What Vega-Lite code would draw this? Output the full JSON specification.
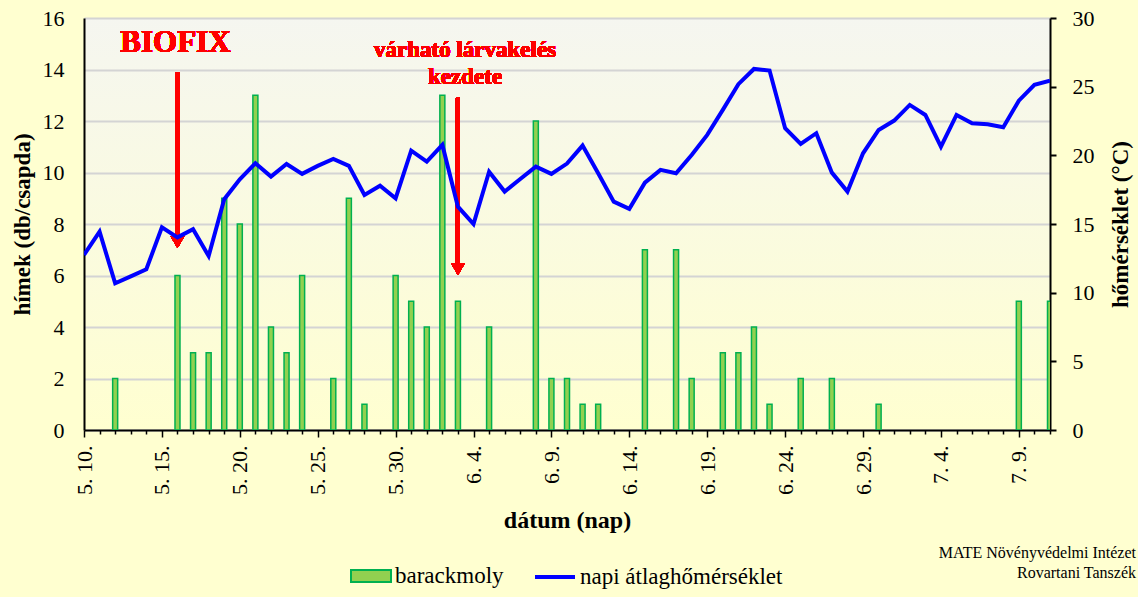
{
  "$schema": "https://vega.github.io/schema/vega-lite/v6.json",
  "width": 966,
  "height": 412,
  "autosize": {"type": "none"},
  "padding": {"left": 84, "top": 18, "right": 88, "bottom": 167},
  "background": "#ffffd0",
  "config": {
    "font": "Liberation Serif",
    "view": {
      "stroke": null,
      "fill": {"gradient": "linear", "x1": 0, "y1": 0, "x2": 0, "y2": 1,
        "stops": [{"offset": 0, "color": "#f5f6f0"}, {"offset": 1, "color": "#ffffd0"}]}
    },
    "axis": {"labelFont": "Liberation Serif", "titleFont": "Liberation Serif", "labelColor": "black", "titleColor": "black", "domainColor": "black", "tickColor": "black"},
    "legend": {"labelFont": "Liberation Serif", "labelColor": "black", "labelFontSize": 23, "labelLimit": 0, "labelOffset": 3}
  },
  "title": {
    "text": ["MATE Növényvédelmi Intézet", "Rovartani Tanszék"],
    "orient": "bottom", "anchor": "end", "align": "right", "frame": "group",
    "font": "Liberation Serif", "fontSize": 16, "fontWeight": "normal", "color": "black",
    "lineHeight": 20, "dx": 86, "dy": -54, "offset": 10
  },
  "data": {"values": [
    {"date": "2024-05-10", "moths": 0, "temp": 12.75},
    {"date": "2024-05-11", "moths": 0, "temp": 14.44},
    {"date": "2024-05-12", "moths": 2, "temp": 10.68},
    {"date": "2024-05-13", "moths": 0, "temp": 11.19},
    {"date": "2024-05-14", "moths": 0, "temp": 11.70},
    {"date": "2024-05-15", "moths": 0, "temp": 14.76},
    {"date": "2024-05-16", "moths": 6, "temp": 14.03},
    {"date": "2024-05-17", "moths": 3, "temp": 14.62},
    {"date": "2024-05-18", "moths": 3, "temp": 12.67},
    {"date": "2024-05-19", "moths": 9, "temp": 16.80},
    {"date": "2024-05-20", "moths": 8, "temp": 18.26},
    {"date": "2024-05-21", "moths": 13, "temp": 19.42},
    {"date": "2024-05-22", "moths": 4, "temp": 18.45},
    {"date": "2024-05-23", "moths": 3, "temp": 19.37},
    {"date": "2024-05-24", "moths": 6, "temp": 18.65},
    {"date": "2024-05-25", "moths": 0, "temp": 19.23},
    {"date": "2024-05-26", "moths": 2, "temp": 19.74},
    {"date": "2024-05-27", "moths": 9, "temp": 19.23},
    {"date": "2024-05-28", "moths": 1, "temp": 17.12},
    {"date": "2024-05-29", "moths": 0, "temp": 17.79},
    {"date": "2024-05-30", "moths": 6, "temp": 16.87},
    {"date": "2024-05-31", "moths": 5, "temp": 20.34},
    {"date": "2024-06-01", "moths": 4, "temp": 19.54},
    {"date": "2024-06-02", "moths": 13, "temp": 20.76},
    {"date": "2024-06-03", "moths": 5, "temp": 16.26},
    {"date": "2024-06-04", "moths": 0, "temp": 15.00},
    {"date": "2024-06-05", "moths": 4, "temp": 18.81},
    {"date": "2024-06-06", "moths": 0, "temp": 17.36},
    {"date": "2024-06-07", "moths": 0, "temp": 18.28},
    {"date": "2024-06-08", "moths": 12, "temp": 19.18},
    {"date": "2024-06-09", "moths": 2, "temp": 18.65},
    {"date": "2024-06-10", "moths": 2, "temp": 19.40},
    {"date": "2024-06-11", "moths": 1, "temp": 20.71},
    {"date": "2024-06-12", "moths": 1, "temp": 18.69},
    {"date": "2024-06-13", "moths": 0, "temp": 16.63},
    {"date": "2024-06-14", "moths": 0, "temp": 16.10},
    {"date": "2024-06-15", "moths": 7, "temp": 18.01},
    {"date": "2024-06-16", "moths": 0, "temp": 18.94},
    {"date": "2024-06-17", "moths": 7, "temp": 18.69},
    {"date": "2024-06-18", "moths": 2, "temp": 20.03},
    {"date": "2024-06-19", "moths": 0, "temp": 21.49},
    {"date": "2024-06-20", "moths": 3, "temp": 23.31},
    {"date": "2024-06-21", "moths": 3, "temp": 25.18},
    {"date": "2024-06-22", "moths": 4, "temp": 26.29},
    {"date": "2024-06-23", "moths": 1, "temp": 26.17},
    {"date": "2024-06-24", "moths": 0, "temp": 21.97},
    {"date": "2024-06-25", "moths": 2, "temp": 20.83},
    {"date": "2024-06-26", "moths": 0, "temp": 21.61},
    {"date": "2024-06-27", "moths": 2, "temp": 18.74},
    {"date": "2024-06-28", "moths": 0, "temp": 17.36},
    {"date": "2024-06-29", "moths": 0, "temp": 20.15},
    {"date": "2024-06-30", "moths": 1, "temp": 21.85},
    {"date": "2024-07-01", "moths": 0, "temp": 22.53},
    {"date": "2024-07-02", "moths": 0, "temp": 23.67},
    {"date": "2024-07-03", "moths": 0, "temp": 22.94},
    {"date": "2024-07-04", "moths": 0, "temp": 20.63},
    {"date": "2024-07-05", "moths": 0, "temp": 22.94},
    {"date": "2024-07-06", "moths": 0, "temp": 22.34},
    {"date": "2024-07-07", "moths": 0, "temp": 22.26},
    {"date": "2024-07-08", "moths": 0, "temp": 22.05},
    {"date": "2024-07-09", "moths": 5, "temp": 23.98},
    {"date": "2024-07-10", "moths": 0, "temp": 25.13},
    {"date": "2024-07-11", "moths": 5, "temp": 25.44}
  ]},
  "encoding": {
    "x": {
      "field": "date", "type": "temporal",
      "scale": {"type": "utc", "nice": false, "padding": 0, "domain": [
        {"year": 2024, "month": 5, "date": 10, "utc": true},
        {"year": 2024, "month": 7, "date": 11, "utc": true}]},
      "axis": {
        "title": "dátum (nap)", "titleFontSize": 24, "titleFontWeight": "bold",
        "titleX": 483, "titleY": 90, "titleBaseline": "middle",
        "grid": false, "tickCount": {"interval": "day", "step": 1},
        "labelExpr": "(datum.value - 1715299200000) % 432000000 == 0 ? utcFormat(datum.value, '%-m. %-d.') : ''",
        "labelAngle": 270, "labelAlign": "right", "labelBaseline": "middle",
        "labelFontSize": 22, "labelPadding": 8, "labelFlush": false, "labelOverlap": false, "labelBound": false,
        "tickSize": {"condition": {"test": "(datum.value - 1715299200000) % 432000000 == 0", "value": 7}, "value": 4},
        "tickWidth": 1.5, "domainWidth": 2
      }
    }
  },
  "layer": [
    {
      "layer": [
        {
          "transform": [{"filter": "datum.moths > 0"}],
          "mark": {"type": "bar", "size": 5, "stroke": "#00b050", "strokeWidth": 1.5, "clip": true},
          "encoding": {
            "y": {
              "field": "moths", "type": "quantitative",
              "scale": {"domain": [0, 16], "nice": false},
              "axis": {
                "title": "hímek (db/csapda)", "titleFontSize": 23, "titleFontWeight": "bold",
                "titleAngle": 270, "titleX": -62, "titleY": 206, "titleAlign": "center", "titleBaseline": "middle",
                "values": [0, 2, 4, 6, 8, 10, 12, 14, 16], "labelFontSize": 22, "labelPadding": 20,
                "ticks": false, "domainWidth": 2, "grid": true, "gridColor": "#d4d4d4", "gridWidth": 2
              }
            },
            "fill": {
              "datum": "barackmoly", "type": "nominal",
              "scale": {"domain": ["barackmoly"], "range": ["#92d050"]},
              "legend": {
                "orient": "none", "legendX": 266, "legendY": 537, "title": null,
                "symbolSize": 1600, "symbolType": "M-1,-0.3H1V0.3H-1Z",
                "symbolStrokeColor": "#00b050", "symbolStrokeWidth": 2, "symbolFillColor": "#92d050", "symbolOpacity": 1
              }
            }
          }
        },
        {
          "mark": {"type": "rule", "color": "#ff0000", "strokeWidth": 4},
          "encoding": {
            "x": {"datum": {"year": 2024, "month": 5, "date": 16, "utc": true}, "type": "temporal"},
            "y": {"datum": 13.9, "type": "quantitative"},
            "y2": {"datum": 7.5}
          }
        },
        {
          "mark": {"type": "point", "shape": "triangle-down", "filled": true, "color": "#ff0000", "size": 196, "opacity": 1},
          "encoding": {
            "x": {"datum": {"year": 2024, "month": 5, "date": 16, "utc": true}, "type": "temporal"},
            "y": {"datum": 7.3, "type": "quantitative"}
          }
        },
        {
          "mark": {"type": "rule", "color": "#ff0000", "strokeWidth": 4},
          "encoding": {
            "x": {"datum": {"year": 2024, "month": 6, "date": 3, "utc": true}, "type": "temporal"},
            "y": {"datum": 12.9, "type": "quantitative"},
            "y2": {"datum": 6.45}
          }
        },
        {
          "mark": {"type": "point", "shape": "triangle-down", "filled": true, "color": "#ff0000", "size": 196, "opacity": 1},
          "encoding": {
            "x": {"datum": {"year": 2024, "month": 6, "date": 3, "utc": true}, "type": "temporal"},
            "y": {"datum": 6.25, "type": "quantitative"}
          }
        },
        {
          "mark": {"type": "text", "text": "BIOFIX", "color": "#ff0000", "font": "Liberation Serif", "fontSize": 31, "fontWeight": "bold", "align": "center", "baseline": "alphabetic", "dx": -2},
          "encoding": {
            "x": {"datum": {"year": 2024, "month": 5, "date": 16, "utc": true}, "type": "temporal"},
            "y": {"datum": 14.68, "type": "quantitative"}
          }
        },
        {
          "mark": {"type": "text", "text": ["várható lárvakelés", "kezdete"], "lineHeight": 27, "color": "#ff0000", "font": "Liberation Serif", "fontSize": 23, "fontWeight": "bold", "align": "center", "baseline": "alphabetic"},
          "encoding": {
            "x": {"datum": {"year": 2024, "month": 6, "date": 3, "hours": 11, "utc": true}, "type": "temporal"},
            "y": {"datum": 14.49, "type": "quantitative"}
          }
        }
      ]
    },
    {
      "mark": {"type": "line", "strokeWidth": 4, "strokeJoin": "miter", "clip": true},
      "encoding": {
        "y": {
          "field": "temp", "type": "quantitative",
          "scale": {"domain": [0, 30], "nice": false},
          "axis": {
            "orient": "right", "title": "hőmérséklet (°C)", "titleFontSize": 23, "titleFontWeight": "bold",
            "titleAngle": 270, "titleX": 70, "titleY": 206, "titleAlign": "center", "titleBaseline": "middle",
            "values": [0, 5, 10, 15, 20, 25, 30], "labelFontSize": 22, "labelPadding": 16,
            "tickSize": 6, "tickWidth": 2, "domainWidth": 2, "grid": false
          }
        },
        "stroke": {
          "datum": "napi átlaghőmérséklet", "type": "nominal",
          "scale": {"domain": ["napi átlaghőmérséklet"], "range": ["#0000ff"]},
          "legend": {
            "orient": "none", "legendX": 449, "legendY": 537, "title": null,
            "symbolSize": 1600, "symbolType": "stroke", "symbolStrokeWidth": 4, "symbolStrokeColor": "#0000ff", "symbolOpacity": 1
          }
        }
      }
    }
  ],
  "resolve": {"scale": {"y": "independent"}}
}
